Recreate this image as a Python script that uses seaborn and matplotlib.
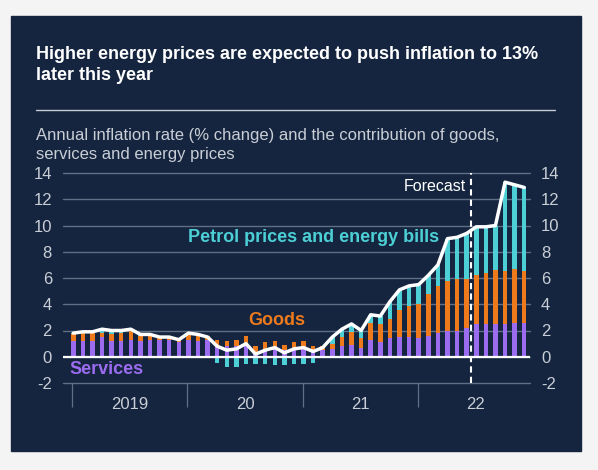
import numpy as np
import pandas as pd
import seaborn as sns
import matplotlib.pyplot as plt
from matplotlib.patches import Rectangle
from matplotlib.lines import Line2D

# Data: monthly, Jan 2019 - Dec 2022 (percentage points)
services = [1.2, 1.2, 1.2, 1.5, 1.2, 1.2, 1.3, 1.2, 1.3, 1.3, 1.3, 1.1,
            1.3, 1.2, 1.3, 0.9, 0.8, 0.8, 1.0, 0.4, 0.6, 0.7, 0.5, 0.6,
            0.6, 0.5, 0.5, 0.6, 0.8, 0.9, 0.65, 1.3, 1.1, 1.4, 1.5, 1.5,
            1.4, 1.6, 1.8, 2.0, 2.0, 2.2, 2.5, 2.5, 2.5, 2.5, 2.6, 2.6]
goods = [0.5, 0.6, 0.6, 0.3, 0.5, 0.6, 0.7, 0.4, 0.4, 0.3, 0.3, 0.2,
         0.4, 0.4, 0.3, 0.4, 0.4, 0.5, 0.6, 0.4, 0.5, 0.5, 0.4, 0.5,
         0.6, 0.3, 0.3, 0.4, 0.7, 1.0, 0.75, 1.3, 1.4, 1.5, 2.1, 2.4,
         2.6, 3.2, 3.6, 3.8, 3.9, 3.7, 3.7, 3.9, 4.1, 4.0, 4.1, 3.9]
energy = [0.1, 0.1, 0.1, 0.3, 0.3, 0.2, 0.1, 0.1, 0.0, -0.1, -0.1, 0.0,
          0.1, 0.1, -0.1, -0.5, -0.75, -0.75, -0.55, -0.55, -0.55, -0.6, -0.6, -0.55,
          -0.55, -0.45, -0.1, 0.5, 0.6, 0.6, 0.6, 0.6, 0.6, 1.3, 1.5, 1.5,
          1.5, 1.4, 1.6, 3.2, 3.2, 3.5, 3.8, 3.5, 3.4, 6.8, 6.4, 6.4]
inflation = [1.8, 1.9, 1.9, 2.1, 2.0, 2.0, 2.1, 1.7, 1.7, 1.5, 1.5, 1.3,
             1.8, 1.7, 1.5, 0.8, 0.5, 0.6, 1.0, 0.2, 0.5, 0.7, 0.3, 0.6,
             0.7, 0.4, 0.7, 1.5, 2.1, 2.5, 2.0, 3.2, 3.1, 4.2, 5.1, 5.4,
             5.5, 6.2, 7.0, 9.0, 9.1, 9.4, 9.9, 9.9, 10.0, 13.3, 13.1, 12.9]
years = ['2019', '20', '21', '22']
yticks = [-2, 0, 2, 4, 6, 8, 10, 12, 14]

df = pd.DataFrame({'month': np.arange(len(services)), 'services': services,
                   'goods': goods, 'energy': energy, 'inflation': inflation})
sg = df['services'] + df['goods']
energy_bottom = np.where(df['energy'] >= 0, sg, 0)

navy = '#15253f'
purple = '#9b6cf0'
orange = '#ee7a1c'
cyan = '#4ccfd5'
grid_c = '#5f6f86'
tick_c = '#c9ced6'

sns.set_style('white')
plt.rcParams['font.family'] = ['Liberation Sans', 'DejaVu Sans']

fig = plt.figure(figsize=(5.98, 4.70), dpi=100, facecolor='#f4f4f4')
fig.add_artist(Rectangle((11 / 598, 1 - 451 / 470), 570 / 598, 435 / 470,
                         transform=fig.transFigure, color=navy, zorder=-10))

ax = fig.add_axes([63 / 598, 1 - 383 / 470, 467 / 598, 210 / 470])
ax.set_facecolor(navy)

# Horizontal gridlines
for t in yticks:
    ax.axhline(t, color=grid_c, lw=1.0, zorder=1, clip_on=False)

# Stacked bars
sns.barplot(data=df, x='month', y='services', native_scale=True, width=0.47,
            color=purple, saturation=1, errorbar=None, linewidth=0, ax=ax, zorder=3)
sns.barplot(data=df, x='month', y='goods', native_scale=True, width=0.47,
            color=orange, saturation=1, errorbar=None, linewidth=0, ax=ax,
            bottom=df['services'].values, zorder=3)
sns.barplot(data=df, x='month', y='energy', native_scale=True, width=0.47,
            color=cyan, saturation=1, errorbar=None, linewidth=0, ax=ax,
            bottom=energy_bottom, zorder=3)

ax.axhline(0, color='white', lw=1.6, zorder=4)
sns.lineplot(data=df, x='month', y='inflation', color='white', lw=2.5, ax=ax, zorder=5)

ax.set_ylim(-2, 14)
ax.set_xlim(-1.07, 47.6)
ax.set_yticks(yticks)
ax.set_yticklabels([str(t) for t in yticks])
for s in ax.spines.values():
    s.set_visible(False)
ax.set_xlabel('')
ax.set_ylabel('')

# Year separators and labels
ax.set_xticks([-0.1, 11.9, 23.9, 35.9])
ax.set_xticklabels([])
ax.set_xticks([5.9, 17.9, 29.9, 41.9], minor=True)
ax.set_xticklabels(years, minor=True)
ax.tick_params(axis='x', which='major', bottom=True, length=17, width=0.9,
               color=grid_c, direction='out')
ax.tick_params(axis='x', which='minor', bottom=True, length=0, pad=10,
               labelsize=12, labelcolor=tick_c)
ax.tick_params(axis='y', length=0, pad=8, labelsize=12, labelcolor=tick_c)

ax2 = ax.twinx()
ax2.set_ylim(ax.get_ylim())
ax2.set_yticks(yticks)
ax2.set_yticklabels([str(t) for t in yticks])
ax2.tick_params(axis='y', length=0, pad=8, labelsize=12, labelcolor=tick_c)
for s in ax2.spines.values():
    s.set_visible(False)

# Forecast line
ax.vlines(41.45, -2, 14, colors='white', lw=1.5, linestyles=(0, (3, 2)), zorder=6)
ax.text(40.9, 12.95, 'Forecast', color='white', fontsize=11.5, ha='right', va='center', zorder=7)

# Series labels
ax.text(12.0, 9.06, 'Petrol prices and energy bills', color=cyan, fontsize=13,
        fontweight='bold', ha='left', va='center', zorder=7)
ax.text(18.2, 2.73, 'Goods', color=orange, fontsize=13, fontweight='bold',
        ha='left', va='center', zorder=7)
ax.text(-0.35, -1.0, 'Services', color=purple, fontsize=13, fontweight='bold',
        ha='left', va='center', zorder=7)

# Titles
fig.text(36 / 598, 1 - 59 / 470, 'Higher energy prices are expected to push inflation to 13%',
         color='white', fontsize=13, fontweight='bold', ha='left', va='baseline')
fig.text(36 / 598, 1 - 80 / 470, 'later this year',
         color='white', fontsize=13, fontweight='bold', ha='left', va='baseline')
fig.add_artist(Line2D([36 / 598, 555 / 598], [1 - 110 / 470, 1 - 110 / 470],
                      transform=fig.transFigure, color='#c8ced8', lw=1))
fig.text(36 / 598, 1 - 140 / 470,
         'Annual inflation rate (% change) and the contribution of goods,',
         color=tick_c, fontsize=12, ha='left', va='baseline')
fig.text(36 / 598, 1 - 159 / 470, 'services and energy prices',
         color=tick_c, fontsize=12, ha='left', va='baseline')

fig.savefig('out.png', dpi=100, facecolor=fig.get_facecolor())
